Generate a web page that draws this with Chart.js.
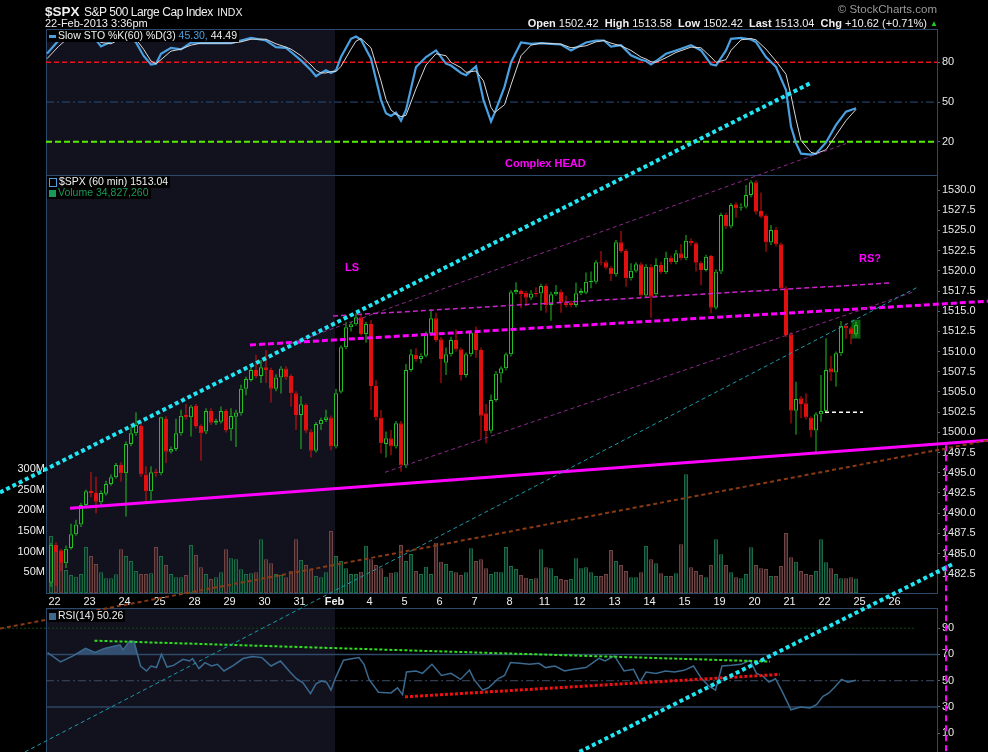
<!DOCTYPE html>
<html><head><meta charset="utf-8">
<script src="https://cdn.jsdelivr.net/npm/chart.js@4.4.1/dist/chart.umd.min.js"></script>
<style>
html,body{margin:0;padding:0;background:#000;width:988px;height:752px;overflow:hidden;}
canvas.cv{position:absolute;left:0;top:0;width:988px;height:752px;}
.t{position:absolute;white-space:nowrap;font-family:"Liberation Sans",Arial,sans-serif;color:#f0f0f0;z-index:10;line-height:1;}
.lg{background:#000;font-size:10.5px;padding:0 2px 1px 2px;}
.ic{display:inline-block;vertical-align:middle;margin-right:2px;}
.ann{color:#ff00ff;font-weight:bold;font-size:11px;}
</style></head><body>
<canvas id="cs" class="cv" width="988" height="752"></canvas>
<canvas id="cr" class="cv" width="988" height="752"></canvas>
<canvas id="cp" class="cv" width="988" height="752"></canvas>

<div class="t" style="left:45px;top:3px;"><span style="font-size:13.5px;font-weight:bold;">$SPX</span> <span style="font-size:12px;letter-spacing:-0.45px;">S&amp;P 500 Large Cap Index</span> <span style="font-size:10.5px;">INDX</span></div>
<div class="t" style="left:45px;top:18px;font-size:11px;">22-Feb-2013 3:36pm</div>
<div class="t" style="right:51px;top:4px;font-size:11.5px;color:#9a9a9a;">&copy; StockCharts.com</div>
<div class="t" style="right:61px;top:18px;font-size:11px;"><b>Open</b> 1502.42&nbsp; <b>High</b> 1513.58&nbsp; <b>Low</b> 1502.42&nbsp; <b>Last</b> 1513.04&nbsp; <b>Chg</b> +10.62 (+0.71%)</div>
<div class="t" style="left:930px;top:20px;font-size:8px;color:#22cc22;">&#9650;</div>

<div class="t lg" style="left:47px;top:30px;"><span class="ic" style="width:7px;height:3px;background:#4aa0e0;"></span>Slow STO %K(60) %D(3) <span style="color:#4aa0e0">45.30,</span> 44.49</div>
<div class="t lg" style="left:47px;top:176px;"><span class="ic" style="width:6px;height:7px;border:1px solid #4aa0e0;"></span>$SPX (60 min) 1513.04</div>
<div class="t lg" style="left:47px;top:187px;color:#1a9a5a;"><span class="ic" style="width:7px;height:7px;background:#1a9a5a;"></span>Volume 34,827,260</div>
<div class="t lg" style="left:47px;top:610px;"><span class="ic" style="width:7px;height:7px;background:#3a6a90;"></span>RSI(14) 50.26</div>

<div class="t ann" style="left:505px;top:158px;">Complex HEAD</div>
<div class="t ann" style="left:345px;top:262px;">LS</div>
<div class="t ann" style="left:859px;top:253px;">RS?</div>

<script>
// ---------------- DATA ----------------
const dayLabels = ['22','23','24','25','28','29','30','31','Feb','4','5','6','7','8','11','12','13','14','15','19','20','21','22','25','26'];

const opens = [
1481.4,1486.1,1485.4,1483.8,1485.7,1487.4,1488.6,1491.0,1492.75,1492.5,
1491.35,1492.4,1493.6,1494.45,1495.97,1494.94,1498.57,1499.9,1500.8,1494.8,
1492.7,1495.15,1494.94,1501.66,1497.6,1497.95,1499.89,1502.16,1501.87,1503.27,
1500.8,1500.1,1502.65,1501.2,1501.33,1502.65,1500.38,1501.95,1502.36,1505.4,
1506.5,1507.73,1506.98,1508.06,1507.73,1505.4,1506.8,1507.9,1506.98,1504.84,
1502.16,1503.4,1500.1,1497.74,1501.0,1501.54,1501.83,1498.24,1505.04,1510.53,
1513.0,1513.4,1514.24,1512.18,1513.42,1505.75,1501.83,1498.57,1499.27,1498.24,
1501.13,1495.89,1507.73,1509.58,1509.09,1509.5,1512.26,1514.12,1511.52,1508.63,
1509.66,1511.44,1510.28,1507.1,1509.66,1512.35,1510.2,1502.36,1500.2,1504.0,
1507.3,1507.93,1509.66,1517.34,1517.5,1517.3,1516.68,1517.3,1517.2,1518.12,
1515.77,1517.09,1517.42,1516.06,1516.06,1515.77,1517.21,1517.3,1518.6,1518.66,
1521.05,1521.05,1520.39,1519.57,1523.53,1522.45,1519.07,1520.0,1520.8,1516.93,
1520.5,1517.09,1520.72,1519.81,1521.63,1521.05,1522.17,1521.55,1523.73,1523.4,
1521.0,1520.1,1521.84,1515.44,1519.9,1526.91,1525.47,1528.23,1527.82,1527.94,
1529.39,1530.95,1527.4,1526.79,1523.49,1525.05,1523.28,1517.83,1512.14,1502.69,
1504.22,1503.6,1501.83,1500.22,1502.24,1502.65,1507.93,1507.4,1509.79,1513.21,
1512.88,1512.14];
const highs = [
1486.3,1486.4,1485.6,1486.0,1488.7,1489.2,1491.3,1492.9,1495.1,1494.5,
1492.8,1494.0,1494.8,1496.2,1496.3,1498.86,1500.7,1502.5,1501.3,1495.8,
1495.8,1495.5,1501.95,1502.0,1498.24,1501.7,1502.8,1503.5,1503.4,1503.5,
1501.0,1503.0,1503.0,1501.7,1503.2,1502.9,1503.0,1502.8,1505.9,1506.9,
1508.0,1509.6,1508.97,1510.2,1508.0,1507.2,1508.2,1508.2,1507.2,1505.1,
1504.5,1503.6,1500.4,1501.3,1501.8,1502.8,1502.1,1505.4,1510.8,1513.7,
1513.7,1514.74,1514.53,1513.7,1513.9,1506.5,1502.78,1500.1,1500.3,1501.4,
1501.4,1508.47,1510.3,1510.4,1509.8,1512.5,1515.2,1514.8,1511.8,1510.5,
1511.85,1512.76,1510.5,1509.9,1512.6,1513.1,1510.5,1503.5,1504.7,1507.6,
1508.2,1509.9,1517.6,1518.58,1517.7,1517.5,1517.6,1517.96,1518.4,1518.4,
1517.4,1518.25,1517.7,1516.9,1516.3,1518.54,1517.8,1519.8,1519.9,1521.3,
1522.45,1521.3,1520.6,1523.8,1524.93,1522.7,1520.93,1521.05,1521.05,1520.8,
1520.8,1521.55,1521.13,1522.37,1521.9,1522.58,1523.3,1524.43,1524.0,1523.6,
1521.2,1522.0,1521.96,1520.2,1527.2,1527.2,1528.4,1528.5,1528.35,1530.62,
1531.2,1531.2,1529.7,1527.0,1525.67,1525.38,1523.5,1518.1,1512.4,1506.28,
1504.5,1504.84,1502.0,1502.5,1507.1,1511.65,1509.5,1510.0,1513.79,1513.5,
1513.1,1513.7];
const lows = [
1480.9,1481.0,1482.8,1483.2,1485.5,1487.2,1488.3,1490.8,1492.0,1490.0,
1491.0,1492.2,1493.4,1494.3,1493.9,1489.6,1498.3,1499.6,1494.5,1491.4,
1491.6,1494.5,1494.7,1496.2,1497.4,1497.7,1499.6,1501.6,1499.5,1500.5,
1496.5,1499.8,1500.9,1500.9,1501.1,1500.0,1498.98,1498.2,1502.1,1504.6,
1506.3,1506.7,1506.1,1506.1,1503.7,1505.1,1504.8,1506.5,1503.2,1500.3,
1497.95,1499.9,1496.9,1497.5,1500.3,1501.3,1497.8,1498.0,1504.8,1510.3,
1512.5,1513.2,1512.0,1511.1,1502.78,1501.5,1497.4,1496.9,1497.2,1498.0,
1495.14,1495.6,1507.5,1508.76,1508.55,1509.3,1512.0,1511.2,1506.1,1507.1,
1509.4,1510.0,1506.4,1506.8,1509.4,1509.25,1499.2,1498.65,1499.9,1503.8,
1506.16,1507.7,1509.4,1517.1,1515.36,1515.65,1516.4,1516.8,1515.07,1514.82,
1513.83,1516.9,1514.82,1515.5,1515.5,1515.5,1517.0,1517.1,1517.83,1518.4,
1520.7,1520.2,1518.74,1519.3,1522.2,1518.04,1518.8,1519.8,1516.7,1516.7,
1514.2,1516.8,1519.6,1519.6,1520.8,1520.8,1521.3,1521.3,1523.1,1519.9,
1518.2,1519.9,1514.74,1515.2,1519.6,1525.2,1525.26,1526.58,1527.45,1527.7,
1529.1,1527.0,1526.5,1522.37,1523.2,1523.0,1517.6,1511.8,1501.1,1499.7,
1501.75,1501.6,1499.39,1497.5,1501.33,1502.4,1506.36,1505.66,1509.5,1511.56,
1510.9,1511.85];
const closes = [
1486.1,1485.2,1483.8,1485.6,1487.4,1488.6,1491.0,1492.7,1492.5,1491.4,
1492.5,1493.6,1494.45,1495.97,1494.94,1498.57,1499.89,1500.9,1494.8,1492.7,
1495.06,1494.94,1501.87,1497.6,1497.95,1499.89,1502.07,1501.87,1503.19,1500.8,
1499.89,1502.65,1501.2,1501.4,1502.65,1500.3,1502.03,1502.45,1505.4,1506.6,
1507.73,1506.98,1508.06,1507.73,1505.4,1506.8,1507.9,1506.8,1504.84,1502.16,
1503.48,1500.2,1497.74,1501.04,1501.54,1501.87,1498.24,1504.84,1510.53,1513.0,
1513.4,1514.24,1512.18,1513.42,1505.75,1501.83,1498.65,1499.27,1498.24,1501.13,
1495.89,1507.73,1509.66,1509.09,1509.5,1512.26,1514.12,1511.44,1509.09,1509.66,
1511.44,1510.28,1507.1,1509.66,1512.35,1510.2,1502.07,1500.17,1504.0,1507.3,
1507.93,1509.66,1517.34,1517.63,1517.13,1516.68,1517.2,1517.09,1518.12,1515.77,
1517.09,1517.42,1516.06,1515.77,1515.77,1517.21,1517.5,1518.66,1518.74,1521.05,
1520.93,1520.39,1519.57,1523.53,1522.45,1519.07,1520.0,1520.8,1516.93,1520.5,
1516.8,1520.72,1519.81,1521.63,1521.05,1522.17,1521.55,1523.73,1523.4,1521.0,
1520.1,1521.75,1515.44,1519.9,1526.91,1525.47,1528.15,1527.73,1527.94,1529.39,
1530.95,1527.32,1526.7,1523.49,1525.05,1523.28,1517.83,1512.06,1502.69,1504.14,
1503.52,1501.83,1500.22,1502.24,1502.65,1507.73,1507.4,1509.79,1513.21,1512.88,
1512.14,1513.3];
// volume in millions
const volumes = [
137.7,116.0,99.9,55.6,43.5,39.5,45.9,111.1,89.4,70.1,
49.9,35.4,35.4,45.1,105.5,89.4,77.3,53.2,45.9,45.9,
47.5,111.1,89.4,67.7,45.9,37.9,37.9,43.5,116.0,91.8,
62.0,45.9,33.8,37.9,49.9,105.5,83.8,81.3,57.2,45.9,
47.5,49.9,129.6,81.3,71.7,45.9,43.5,37.9,54.0,129.6,
79.7,67.7,57.2,41.1,37.9,49.9,149.8,89.4,77.3,59.6,
45.9,45.9,51.5,114.3,81.3,67.7,59.6,39.5,49.1,49.9,
116.0,77.3,94.2,53.2,45.9,63.6,45.9,121.6,75.7,70.1,
53.2,49.9,43.5,49.9,107.9,77.3,81.3,59.6,45.9,51.5,
49.9,111.1,65.2,58.0,43.5,37.1,33.8,35.4,105.5,62.0,
59.6,41.1,33.8,31.4,33.8,83.8,59.6,62.0,49.9,41.1,
41.1,45.9,103.9,77.3,67.7,53.2,37.9,37.9,49.9,113.5,
81.3,71.7,47.5,41.1,41.1,47.5,117.6,286.6,62.0,53.2,
43.5,37.9,67.7,129.6,93.4,67.7,49.9,37.9,35.4,45.9,
110.3,67.7,59.6,58.0,41.1,41.1,65.2,144.9,86.2,75.7,
53.2,45.9,43.5,53.2,129.6,74.1,59.6,45.9,35.4,35.4,
37.9,34.8];

const stochX = [-0.8,1.5,3,6,9,10,12,14,16,17,18.5,20,21,22,24,26,28,30,33,36,38,40,43,45,47,48,50,52,53,54,55,56,57,58,60,61,62,64,66,67,68,69,70,71,73,75,77,79,80,82,83,85,86.5,88,88.7,90.7,92,94,96,98,100,102,104,107,109,110.6,112,114,116,118,119,120,121,123,125,128,130,132,133,135,136,138,140,141,143,145,147,148,149,150,152,153,155,157,159,161];
const stochK = [86.6,96.5,99,100,97,92,95.5,100,99,95,85,78.3,79,86.5,91,89.8,95,94.5,94.5,94.5,96.5,98.5,96.5,91.5,91,87.8,81.5,74,69.5,72,74,72,74,84,97.8,99.5,97,82.8,51.5,41.5,39.5,42,36,44,76.5,84,89,79,77.6,72,70.3,77,51.5,35.3,41.5,61.5,80,95,94,94.5,94,93.5,89,95,96.5,96.5,92,93,85.3,82,81,78.5,81,86.5,89,93,89,78.5,77.6,89,97.8,98.5,97.3,95.3,84,76.5,59,31.5,19,11,10.3,11,19.5,32.8,42.8,45.3];
const stochD = [82.8,92,97,99.5,98,95,94,98,99.5,97.5,90,81,79,82,88.5,90,93,94.5,94.5,94.5,95.5,97.5,97.5,94,91.5,90,85,78,74,72,72,73,73,77,90,96,98,91,66,52,44,41,39,40,60,78,86.5,85,80,76,72.5,73.5,66,46,42,48,63,85,93,94.5,94.2,93.8,91,92.5,95.5,96.5,94.5,92.5,89,84,82.5,80.5,80,83.5,87.5,91.5,91,84,80,82,89,97,98,97,90,81,71,55,37,21,12,11,14,25,36,44.5];

const rsiX = [-0.7,1.9,4.4,6.9,8.8,10.7,13.8,14.4,15.7,16.6,17.9,19.1,20,21.1,22.1,23.2,24.5,26.4,27.7,28.3,29.6,30.8,32.1,33.3,34.6,36.5,38.4,40.3,42.2,44,45.9,47.8,49.1,50.4,51.9,53,54.1,55.1,56,56.9,58.5,60.4,61.6,62.6,63.6,65.5,68,69.3,70.3,71.1,73,74.3,76.2,78.1,80,81.9,83.7,84.6,86.3,87.5,89.4,90.7,91.9,93.8,95.7,97.6,98.9,100.8,102.7,104.5,107,109.6,110.8,112.7,114.6,116.5,117.8,119,121,122.9,124.7,126.6,128.5,130,131.6,132.9,134.2,136.1,138,139.8,141.1,142.4,143.6,144.9,146.1,148,149.9,151.8,153.1,154.4,155.6,156.9,158.1,159.4,161];
const rsiV = [71.5,64.3,68.9,74.6,71.5,74.6,77.4,73.5,80,80,61.2,57.4,61.2,60,70.2,60.4,61.7,66.3,65,66.9,59.2,63.8,61.2,62.5,57.4,61.7,66.9,68.4,67.6,61.2,65,56.6,51.5,48.4,40.2,47.6,49.7,48.9,42.8,52.2,65.6,66.9,67.6,62.5,51,41.2,40.7,44.6,39.4,56.6,57.4,55.6,62.5,54,55.6,51,58.1,51,42.8,44.6,51.5,54,63.8,63.3,62.5,63.3,60,61.2,57.4,58.7,60,67.1,65,68.9,57.4,58.7,48.9,56.6,55.6,57.4,56.6,57.9,61.2,52.2,45.8,42.8,61.2,61.7,62.5,65.6,55.6,53.5,48.9,51.5,42.8,27.9,30,29.2,31.7,38.1,40.7,45.8,51,48.9,50.3];

const priceTicks = [1482.5,1485,1487.5,1490,1492.5,1495,1497.5,1500,1502.5,1505,1507.5,1510,1512.5,1515,1517.5,1520,1522.5,1525,1527.5,1530];
const volTicks = [50,100,150,200,250,300];
const stochTicks = [20,50,80];
const rsiTicks = [10,30,50,70,90];

// hand-drawn annotation lines, in (bar index, value) coordinates
const cyanUpper   = [[-10.2,1492.57],[151.8,1543.2]];
const cyanLower   = [[105.7,1460.45],[180.4,1483.71]];
const magentaBase = [[3.8,1490.61],[187.4,1499.02]];
const neckline    = [[39.8,1510.82],[187.4,1516.24]];
const thinNeck    = [[56.4,1514.41],[167.8,1518.49]];
const chanUpper   = [[47.8,1510.94],[159.0,1535.75]];
const chanLower   = [[66.8,1495.06],[172.8,1517.45]];
const tealLine    = [[-5.2,1460.45],[173.4,1518.0]];
const brownLine   = [[-10.2,1475.71],[187.4,1499.01]];
const prevClose   = [[154.8,1502.5],[162.4,1502.5]];
const vertMark    = [[179.0,1498.4],[179.0,1460.4]];
const rsiGreen    = [[8.7,80.5],[143.8,64.6]];
const rsiRed      = [[70.8,37.7],[145.8,54.8]];
const rsi90       = [[-10.2,90],[172.6,90]];

// ---------------- LAYOUT ----------------
const X_MIN = -1.0, X_MAX = 177.2;
const SHADE_END = 56.8;
const PLOT_L = 46, PLOT_R = 937;
const FONT = "'Liberation Sans', Arial, sans-serif";
Chart.defaults.font.family = FONT;
Chart.defaults.font.size = 11;
Chart.defaults.color = '#e8e8e8';
Chart.defaults.animation = false;
Chart.defaults.events = [];
Chart.defaults.plugins.legend.display = false;
Chart.defaults.plugins.tooltip.enabled = false;

const panelBg = {
  id: 'panelBg',
  beforeDraw(chart) {
    const {ctx, chartArea: a, scales} = chart;
    const xe = scales.x.getPixelForValue(SHADE_END);
    ctx.save();
    ctx.fillStyle = '#12121f';
    ctx.fillRect(a.left, a.top, xe - a.left, a.bottom - a.top);
    ctx.restore();
  },
  beforeDatasetsDraw(chart) {
    const {ctx, chartArea: a} = chart;
    ctx.save();
    ctx.strokeStyle = '#2b4a6b';
    ctx.lineWidth = 1;
    ctx.strokeRect(Math.round(a.left) + 0.5, Math.round(a.top) + 0.5, Math.round(a.right - a.left), Math.round(a.bottom - a.top));
    ctx.restore();
  }
};

function seg(pts, color, width, dash, axis, order) {
  return { type: 'line', data: pts.map(p => ({x: p[0], y: p[1]})), borderColor: color, borderWidth: width,
    borderDash: dash || [], pointRadius: 0, clip: false, order: order === undefined ? 1 : order,
    yAxisID: axis || 'y', fill: false, tension: 0, borderCapStyle: 'butt' };
}
function hidX() { return { type: 'linear', min: X_MIN, max: X_MAX, display: false, offset: false }; }
function rightAxis(min, max, vals, fmt) {
  return { position: 'right', min, max, offset: false,
    afterBuildTicks: s => { s.ticks = vals.map(v => ({value: v})); },
    afterFit: s => { s.width = 988 - PLOT_R; s.paddingTop = 0; s.paddingBottom = 0; },
    ticks: { callback: fmt, color: '#e8e8e8', padding: 2, autoSkip: false, font: {size: 11} },
    grid: { drawOnChartArea: false, drawTicks: true, tickLength: 3, color: '#4a6a8a' },
    border: { display: true, color: '#2b4a6b' } };
}

// ---------------- STOCHASTIC ----------------
new Chart(document.getElementById('cs'), {
  type: 'line',
  data: { datasets: [
    seg([[X_MIN,80],[X_MAX,80]], '#ee1111', 1.5, [5,3], 'y', 5),
    seg([[X_MIN,50],[X_MAX,50]], '#2a4e7a', 1, [8,3,2,3], 'y', 5),
    seg([[X_MIN,20],[X_MAX,20]], '#55ee00', 2, [6,3], 'y', 5),
    { type: 'line', data: stochX.map((x,i) => ({x, y: stochK[i]})), borderColor: '#4aa0e0', borderWidth: 2.2, pointRadius: 0, order: 2, tension: 0 },
    { type: 'line', data: stochX.map((x,i) => ({x, y: stochD[i]})), borderColor: '#d8d8d8', borderWidth: 1, pointRadius: 0, order: 1, tension: 0 }
  ]},
  options: { responsive: false, layout: { padding: { top: 29, bottom: 752 - 175, left: PLOT_L, right: 0 } },
    scales: { x: hidX(), y: rightAxis(-5.1, 105.2, stochTicks, v => String(v)) } },
  plugins: [panelBg]
});

// ---------------- RSI ----------------
new Chart(document.getElementById('cr'), {
  type: 'line',
  data: { datasets: [
    seg([[X_MIN,70],[X_MAX,70]], '#2d4563', 1.5, [], 'y', 5),
    seg([[X_MIN,30],[X_MAX,30]], '#2d4563', 1.5, [], 'y', 5),
    seg([[X_MIN,50],[X_MAX,50]], '#3a4d66', 1, [8,3,2,3], 'y', 5),
    seg(rsi90, '#0f4a0f', 1, [2,2], 'y', 5),
    { type: 'line', data: rsiX.map((x,i) => ({x, y: rsiV[i]})), borderColor: '#3a6a90', borderWidth: 1.5, pointRadius: 0, order: 3, tension: 0,
      fill: { target: {value: 70}, above: 'rgba(62,100,140,0.75)', below: 'rgba(0,0,0,0)' } },
    seg(rsiGreen, '#33dd22', 2, [3,2], 'y', 1),
    seg(rsiRed, '#ee1111', 3, [3,2], 'y', 1)
  ]},
  options: { responsive: false, layout: { padding: { top: 608, bottom: 0, left: PLOT_L, right: 0 } },
    scales: { x: hidX(), y: rightAxis(-4.3, 105.4, rsiTicks, v => String(v)) } },
  plugins: [panelBg]
});

// ---------------- PRICE + VOLUME ----------------
const idx = opens.map((_, j) => j);
const isUp = idx.map(j => closes[j] >= opens[j]);
const volUp = idx.map(j => j === 0 ? true : closes[j] >= closes[j-1]);
const GREEN = '#22c022', RED = '#e01010';

new Chart(document.getElementById('cp'), {
  type: 'bar',
  data: { datasets: [
    { type: 'bar', yAxisID: 'yv', order: 20, grouped: false, barThickness: 4, inflateAmount: 0, borderSkipped: false,
      data: idx.map(j => ({x: j, y: volumes[j]})),
      backgroundColor: idx.map(j => volUp[j] ? '#0a3526' : '#3a2020'),
      borderColor: idx.map(j => volUp[j] ? '#1d6b47' : '#6e4444'), borderWidth: 1 },
    { type: 'bar', yAxisID: 'y', order: 12, grouped: false, barThickness: 9, inflateAmount: 0,
      data: [{x: 161, y: [lows[161] - 0.25, highs[161] + 0.25]}], backgroundColor: '#0e5a12', borderWidth: 0 },
    { type: 'bar', yAxisID: 'y', order: 10, grouped: false, barThickness: 1, inflateAmount: 0,
      data: idx.map(j => ({x: j, y: [Math.max(opens[j], closes[j]), highs[j]]})),
      backgroundColor: idx.map(j => isUp[j] ? GREEN : RED), borderWidth: 0 },
    { type: 'bar', yAxisID: 'y', order: 10, grouped: false, barThickness: 1, inflateAmount: 0,
      data: idx.map(j => ({x: j, y: [lows[j], Math.min(opens[j], closes[j])]})),
      backgroundColor: idx.map(j => isUp[j] ? GREEN : RED), borderWidth: 0 },
    { type: 'bar', yAxisID: 'y', order: 8, grouped: false, barThickness: 4, inflateAmount: 0, borderSkipped: false, minBarLength: 1,
      data: idx.map(j => ({x: j, y: [opens[j], closes[j]]})),
      backgroundColor: idx.map(j => isUp[j] ? 'rgba(0,0,0,0)' : RED),
      borderColor: idx.map(j => isUp[j] ? GREEN : RED), borderWidth: 1 },
    seg(brownLine, '#8a3a12', 2, [4,3]),
    seg(tealLine, '#1a9aa8', 1, [4,3]),
    seg(chanUpper, '#8a2a8a', 1, [4,3]),
    seg(chanLower, '#8a2a8a', 1, [4,3]),
    seg(thinNeck, '#cc22cc', 1.5, [5,3]),
    seg(neckline, '#ff00ff', 3, [6,3]),
    seg(magentaBase, '#ff00ff', 3, []),
    seg(prevClose, '#ffffff', 1.5, [4,3]),
    seg(vertMark, '#ff00ff', 2, [6,4]),
    seg(cyanUpper, '#22e4f2', 4, [4,3], 'y', 0),
    seg(cyanLower, '#22e4f2', 4, [4,3], 'y', 0)
  ]},
  options: { responsive: false, layout: { padding: { top: 175, bottom: 0, left: 0, right: 0 } },
    scales: {
      x: { type: 'linear', position: 'bottom', min: X_MIN, max: X_MAX, offset: false,
        afterBuildTicks: s => { s.ticks = dayLabels.map((_, d) => ({value: 1 + 7*d - 0.3})); },
        afterFit: s => { s.height = 752 - 593; },
        ticks: { autoSkip: false, maxRotation: 0, minRotation: 0, padding: 2, color: '#f0f0f0',
          callback: (v, i) => dayLabels[i],
          font: c => ({ family: FONT, size: 11, weight: dayLabels[c.index] === 'Feb' ? 'bold' : 'normal' }) },
        grid: { display: false, drawTicks: false }, border: { display: false } },
      y: rightAxis(1480.12, 1531.86, priceTicks, v => v.toFixed(1)),
      yv: { position: 'left', min: 0, max: 1009.5, offset: false,
        afterBuildTicks: s => { s.ticks = volTicks.map(v => ({value: v})); },
        afterFit: s => { s.width = PLOT_L; s.paddingTop = 0; s.paddingBottom = 0; },
        ticks: { callback: v => v + 'M', color: '#f0f0f0', padding: 1, autoSkip: false, font: {size: 11} },
        grid: { drawOnChartArea: false, drawTicks: false }, border: { display: true, color: '#2b4a6b' } }
    } },
  plugins: [panelBg]
});
</script>
</body></html>
